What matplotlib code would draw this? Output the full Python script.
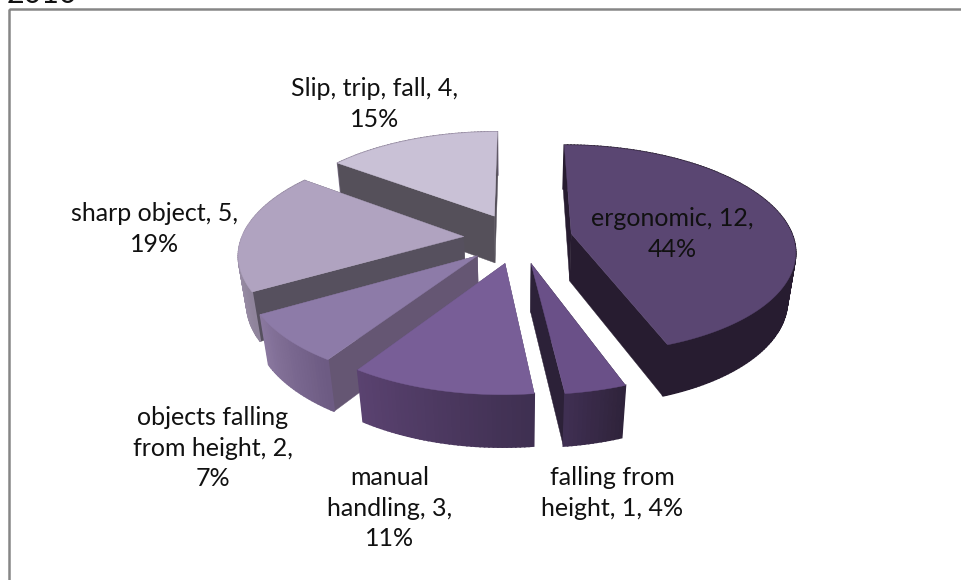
import matplotlib
matplotlib.use("Agg")
import matplotlib.pyplot as plt
import numpy as np

categories = ["ergonomic", "falling from\nheight", "manual\nhandling",
              "objects falling\nfrom height", "sharp object", "Slip, trip, fall"]
values = [12, 1, 3, 2, 5, 4]
percents = [44, 4, 11, 7, 19, 15]
seps = ["\n", " ", "\n", "\n", "\n", "\n"]

top_colors = ["#5a4672", "#6a5088", "#785e97", "#8d7ba8", "#b0a3c0", "#c9c1d6"]
side_colors = ["#271c30", "#2c2138", "#5c5070", "#655673", "#56505e", "#55505a"]
wall_left = ["#271c30", "#3f2f52", "#5a4270", "#8a789f", "#a89bb5", "#8c8198"]
wall_right = ["#271c30", "#2e2239", "#3e2f50", "#6c5a82", "#8c8198", "#8c8198"]

label_pos = [(672, 234), (612, 493), (390, 508), (213, 448), (155, 229), (375, 104)]

# projection of the tilted pie
cx, cy = 518, 238
rx, ry = 222, 103
persp = 0.15
shrink = 0.03
depth = 49
explode = 0.245


def project(x, y, z):
    w = 1 + persp * y + shrink * z
    return cx + rx * x / w, cy - ry * y / w + depth * z / w


def face(ax, pts, color, lw=0.3):
    xs, ys = project(np.array([p[0] for p in pts]), np.array([p[1] for p in pts]),
                     np.array([p[2] for p in pts]))
    ax.fill(xs, ys, color=color, lw=lw, zorder=2)


fig = plt.figure(figsize=(9.62, 5.8), dpi=100)
ax = fig.add_axes([0, 0, 1, 1])
ax.set_xlim(0, 962)
ax.set_ylim(580, 0)
ax.axis("off")

ax.add_patch(plt.Rectangle((9, 9), 960, 600, fill=False, ec="#868686", lw=1.8))
ax.text(7, 3, "2010", fontsize=22, family="Lato", color="#111111", va="baseline")

fractions = np.array(values) / sum(values)
ends = 90 - np.cumsum(fractions) * 360
starts = ends + fractions * 360

# back slices first
for i in [5, 4, 3, 0, 2, 1]:
    a = np.radians(np.linspace(starts[i], ends[i], int(starts[i] - ends[i]) + 2))
    mid = np.radians((starts[i] + ends[i]) / 2)
    ox, oy = explode * np.cos(mid), explode * np.sin(mid)
    xs = ox + np.cos(a)
    ys = oy + np.sin(a)

    faces = []
    for px, py in [(xs[0], ys[0]), (xs[-1], ys[-1])]:
        pts = [(ox, oy, 0), (px, py, 0), (px, py, 1), (ox, oy, 1)]
        faces.append(((oy + py) / 2, pts, side_colors[i], 0.3))
    n = len(a) - 1
    c0 = np.array(matplotlib.colors.to_rgb(wall_left[i]))
    c1 = np.array(matplotlib.colors.to_rgb(wall_right[i]))
    order = np.argsort(xs[:-1])
    for rank, k in enumerate(order):
        pts = [(xs[k], ys[k], 0), (xs[k + 1], ys[k + 1], 0),
               (xs[k + 1], ys[k + 1], 1), (xs[k], ys[k], 1)]
        faces.append(((ys[k] + ys[k + 1]) / 2, pts, c0 + (c1 - c0) * rank / n, 1.2))
    faces.sort(key=lambda f: -f[0])
    for _, pts, color, lw in faces:
        face(ax, pts, color, lw)
    top = [(ox, oy, 0)] + [(x, y, 0) for x, y in zip(xs, ys)]
    face(ax, top, top_colors[i])

for c, v, p, s, pos in zip(categories, values, percents, seps, label_pos):
    ax.text(pos[0], pos[1], f"{c}, {v},{s}{p}%", ha="center", va="center", fontsize=18,
            family="Lato", color="#111111", linespacing=1.4, zorder=5)

fig.savefig("out.png", dpi=100)
